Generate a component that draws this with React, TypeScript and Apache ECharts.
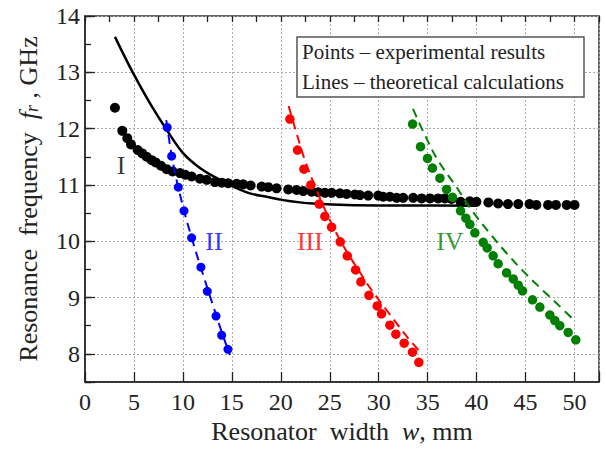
import React, { useEffect, useRef } from 'react';
import * as echarts from 'echarts';

const FONT = 'Liberation Serif';

// Experimental points (mm, GHz)
const blackPoints: [number, number][] = [
  [3.06, 12.37], [3.81, 11.96], [4.32, 11.83], [4.7, 11.72], [5.38, 11.62], [5.85, 11.56],
  [6.3, 11.5], [6.81, 11.44], [7.22, 11.4], [7.76, 11.34], [8.34, 11.28], [8.95, 11.24],
  [9.7, 11.21], [10.24, 11.18], [10.89, 11.15], [11.74, 11.11], [12.43, 11.09], [13.27, 11.05],
  [13.96, 11.04], [14.63, 11.03], [15.49, 11.02], [16.16, 11.01], [16.92, 10.99], [18.04, 10.97],
  [18.72, 10.96], [19.57, 10.94], [20.76, 10.92], [21.61, 10.91], [22.29, 10.89], [23.15, 10.88],
  [23.82, 10.87], [24.5, 10.86], [25.19, 10.86], [26.04, 10.85], [26.72, 10.84], [27.57, 10.83],
  [28.08, 10.82], [28.93, 10.81], [29.95, 10.81], [30.46, 10.79], [31.14, 10.79], [31.83, 10.77],
  [32.5, 10.77], [33.52, 10.77], [34.38, 10.76], [35.23, 10.76], [36.07, 10.76], [36.76, 10.76],
  [37.44, 10.75], [38.36, 10.7], [39.3, 10.71], [39.98, 10.7], [41.2, 10.69], [42.2, 10.67],
  [43.2, 10.66], [44.25, 10.66], [45.4, 10.66], [46.1, 10.645], [47.3, 10.645], [48.1, 10.645],
  [49.2, 10.645], [50.0, 10.645],
];
const bluePoints: [number, number][] = [
  [8.4, 12.02], [8.85, 11.51], [9.53, 10.96], [10.11, 10.54], [10.89, 10.06], [11.84, 9.54],
  [12.49, 9.11], [13.38, 8.67], [13.96, 8.33], [14.6, 8.08],
];
const redPoints: [number, number][] = [
  [20.93, 12.17], [21.71, 11.62], [22.36, 11.28], [23.07, 11.0], [23.92, 10.66], [24.5, 10.44],
  [25.19, 10.25], [26.07, 9.99], [26.79, 9.74], [27.64, 9.49], [28.18, 9.28], [29.0, 9.04],
  [29.85, 8.85], [30.29, 8.71], [31.14, 8.51], [31.75, 8.35], [32.6, 8.19], [33.45, 8.03],
  [34.1, 7.85],
];
const greenPoints: [number, number][] = [
  [33.46, 12.08], [34.27, 11.68], [34.98, 11.47], [35.49, 11.3], [36.25, 11.12], [36.93, 10.92],
  [37.54, 10.78], [38.36, 10.54], [38.9, 10.41], [39.31, 10.3], [39.82, 10.15], [40.67, 9.98],
  [41.08, 9.88], [41.69, 9.74], [42.2, 9.6], [43.06, 9.44], [43.74, 9.33], [44.25, 9.22],
  [44.69, 9.12], [45.71, 8.96], [46.46, 8.83], [47.48, 8.69], [47.99, 8.59], [48.5, 8.5],
  [49.35, 8.38], [50.13, 8.25],
];

// Theoretical curves
const blackLine: [number, number][] = [
  [3.06, 13.63], [4.93, 12.98], [6.64, 12.45], [8.34, 11.98], [10.04, 11.56], [11.74, 11.3],
  [13.45, 11.12], [15.14, 10.97], [16.85, 10.85], [18.55, 10.79], [20.25, 10.73], [21.95, 10.69],
  [23.3, 10.67], [26.7, 10.645], [33, 10.635], [40, 10.63],
];
const blueLine: [number, number][] = [
  [8.3, 12.15], [9.0, 11.38], [10.0, 10.62], [11.0, 10.0], [12.0, 9.44], [13.0, 8.9],
  [14.0, 8.37], [14.8, 7.98],
];
const redLine: [number, number][] = [
  [20.8, 12.4], [21.5, 11.98], [22.5, 11.42], [23.65, 10.91], [24.8, 10.45], [25.9, 10.07],
  [27.0, 9.74], [28.0, 9.47], [29.0, 9.2], [30.0, 8.96], [31.0, 8.73], [32.0, 8.5],
  [33.0, 8.28], [34.3, 8.02],
];
const greenLine: [number, number][] = [
  [33.5, 12.35], [34.54, 11.95], [36.0, 11.45], [37.95, 10.96], [39.5, 10.55], [41.35, 10.14],
  [43.0, 9.8], [44.75, 9.47], [46.5, 9.17], [48.16, 8.9], [50.1, 8.57],
];

const regionLabels = [
  { name: 'I', value: [3.68, 11.34], color: '#000000' },
  { name: 'II', value: [13.17, 10.0], color: '#0000ff' },
  { name: 'III', value: [22.97, 10.0], color: '#ff0000' },
  { name: 'IV', value: [37.27, 10.0], color: '#008000' },
];

const legendLines = ['Points – experimental results', 'Lines – theoretical calculations'];

const X_MIN = 0;
const X_MAX = 52.5;
const Y_MIN = 7.5;
const Y_MAX = 14;

export default function App() {
  const ref = useRef<HTMLDivElement>(null);
  useEffect(() => {
    if (!ref.current) return;
    const chart = echarts.init(ref.current, null, { renderer: 'svg' });
    const axisColor = '#222';
    const minorAxis = (interval: number, min: number, max: number) => ({
      type: 'value', min, max, interval,
      axisLine: { show: false },
      axisTick: { show: true, inside: true, length: 6, lineStyle: { color: axisColor, width: 1.3 } },
      axisLabel: { show: false },
      splitLine: { show: false },
    });
    const lineSeries = (data: [number, number][], color: string, dashed: boolean, z: number) => ({
      type: 'line', data, smooth: 0.35, showSymbol: false, symbol: 'none',
      lineStyle: { color, width: dashed ? 2 : 2.5, type: dashed ? [9, 6] : 'solid' },
      z, silent: true,
    });
    const scatterSeries = (data: [number, number][], color: string, size: number, z: number) => ({
      type: 'scatter', data, symbol: 'circle', symbolSize: size,
      itemStyle: { color, opacity: 1 }, z, silent: true,
    });
    chart.setOption({
      animation: false,
      textStyle: { fontFamily: FONT },
      grid: {
        left: 85, right: 7, top: 16, bottom: 70,
        show: true, borderColor: '#333', borderWidth: 1.5, backgroundColor: 'transparent',
      },
      xAxis: [
        {
          type: 'value', min: X_MIN, max: X_MAX, interval: 5,
          name: 'Resonator  width  {i|w}, mm', nameLocation: 'middle', nameGap: 35,
          nameTextStyle: {
            fontFamily: FONT, fontSize: 26, color: axisColor,
            rich: { i: { fontFamily: FONT, fontSize: 26, fontStyle: 'italic', color: axisColor } },
          },
          axisLine: { show: true, lineStyle: { color: axisColor, width: 1.5 } },
          axisTick: { show: true, inside: true, length: 10, lineStyle: { color: axisColor, width: 1.3 } },
          axisLabel: {
            fontFamily: FONT, fontSize: 24, color: axisColor, margin: 8,
            formatter: (v: number) => (v % 5 === 0 ? String(v) : ''),
          },
          splitLine: { show: true, lineStyle: { color: '#aaaaaa', width: 1, type: [2, 2] } },
        },
        minorAxis(2.5, X_MIN, X_MAX),
      ],
      yAxis: [
        {
          type: 'value', min: Y_MIN, max: Y_MAX, splitNumber: 7, position: 'left',
          name: 'Resonance  frequency  {i|f}{sub|r} , GHz', nameLocation: 'middle', nameGap: 44,
          nameTextStyle: {
            fontFamily: FONT, fontSize: 26, color: axisColor,
            rich: {
              i: { fontFamily: FONT, fontSize: 26, fontStyle: 'italic', color: axisColor },
              sub: { fontFamily: FONT, fontSize: 18, fontStyle: 'italic', color: axisColor, verticalAlign: 'bottom', padding: [8, 0, 0, 0] },
            },
          },
          axisLine: { show: true, lineStyle: { color: axisColor, width: 1.5 } },
          axisTick: { show: true, inside: true, length: 10, lineStyle: { color: axisColor, width: 1.3 } },
          axisLabel: {
            fontFamily: FONT, fontSize: 24, color: axisColor, margin: 5,
            formatter: (v: number) => (Number.isInteger(v) ? String(v) : ''),
          },
          splitLine: { show: true, lineStyle: { color: '#aaaaaa', width: 1, type: [2, 2] } },
        },
        { ...minorAxis(0.5, Y_MIN, Y_MAX), position: 'left' },
      ],
      graphic: [
        {
          type: 'rect', z: 100,
          shape: { x: 297, y: 37, width: 287, height: 60 },
          style: { fill: '#ffffff', stroke: '#555555', lineWidth: 1.5 },
        },
        ...legendLines.map((t, i) => ({
          type: 'text', z: 101, x: 302, y: 52 + i * 30,
          style: {
            text: t, fill: '#222', fontFamily: FONT, fontSize: 21,
            verticalAlign: 'middle', align: 'left',
          },
        })),
      ],
      series: [
        lineSeries(blackLine, '#000000', false, 2),
        scatterSeries(blackPoints, '#000000', 10, 3),
        lineSeries(blueLine, '#0000ff', true, 4),
        scatterSeries(bluePoints, '#0000ff', 9, 5),
        lineSeries(redLine, '#ff0000', true, 4),
        scatterSeries(redPoints, '#ff0000', 9.5, 5),
        lineSeries(greenLine, '#008000', true, 4),
        scatterSeries(greenPoints, '#008000', 9.5, 5),
        {
          type: 'scatter', symbolSize: 0, z: 6, silent: true,
          data: regionLabels.map((r) => ({
            name: r.name, value: r.value,
            label: { color: r.color },
          })),
          label: {
            show: true, position: 'inside', formatter: '{b}',
            fontFamily: FONT, fontSize: 26,
          },
        },
      ],
    });
    return () => chart.dispose();
  }, []);
  return <div ref={ref} style={{ position: 'absolute', left: 0, top: 0, width: 606, height: 452 }} />;
}
